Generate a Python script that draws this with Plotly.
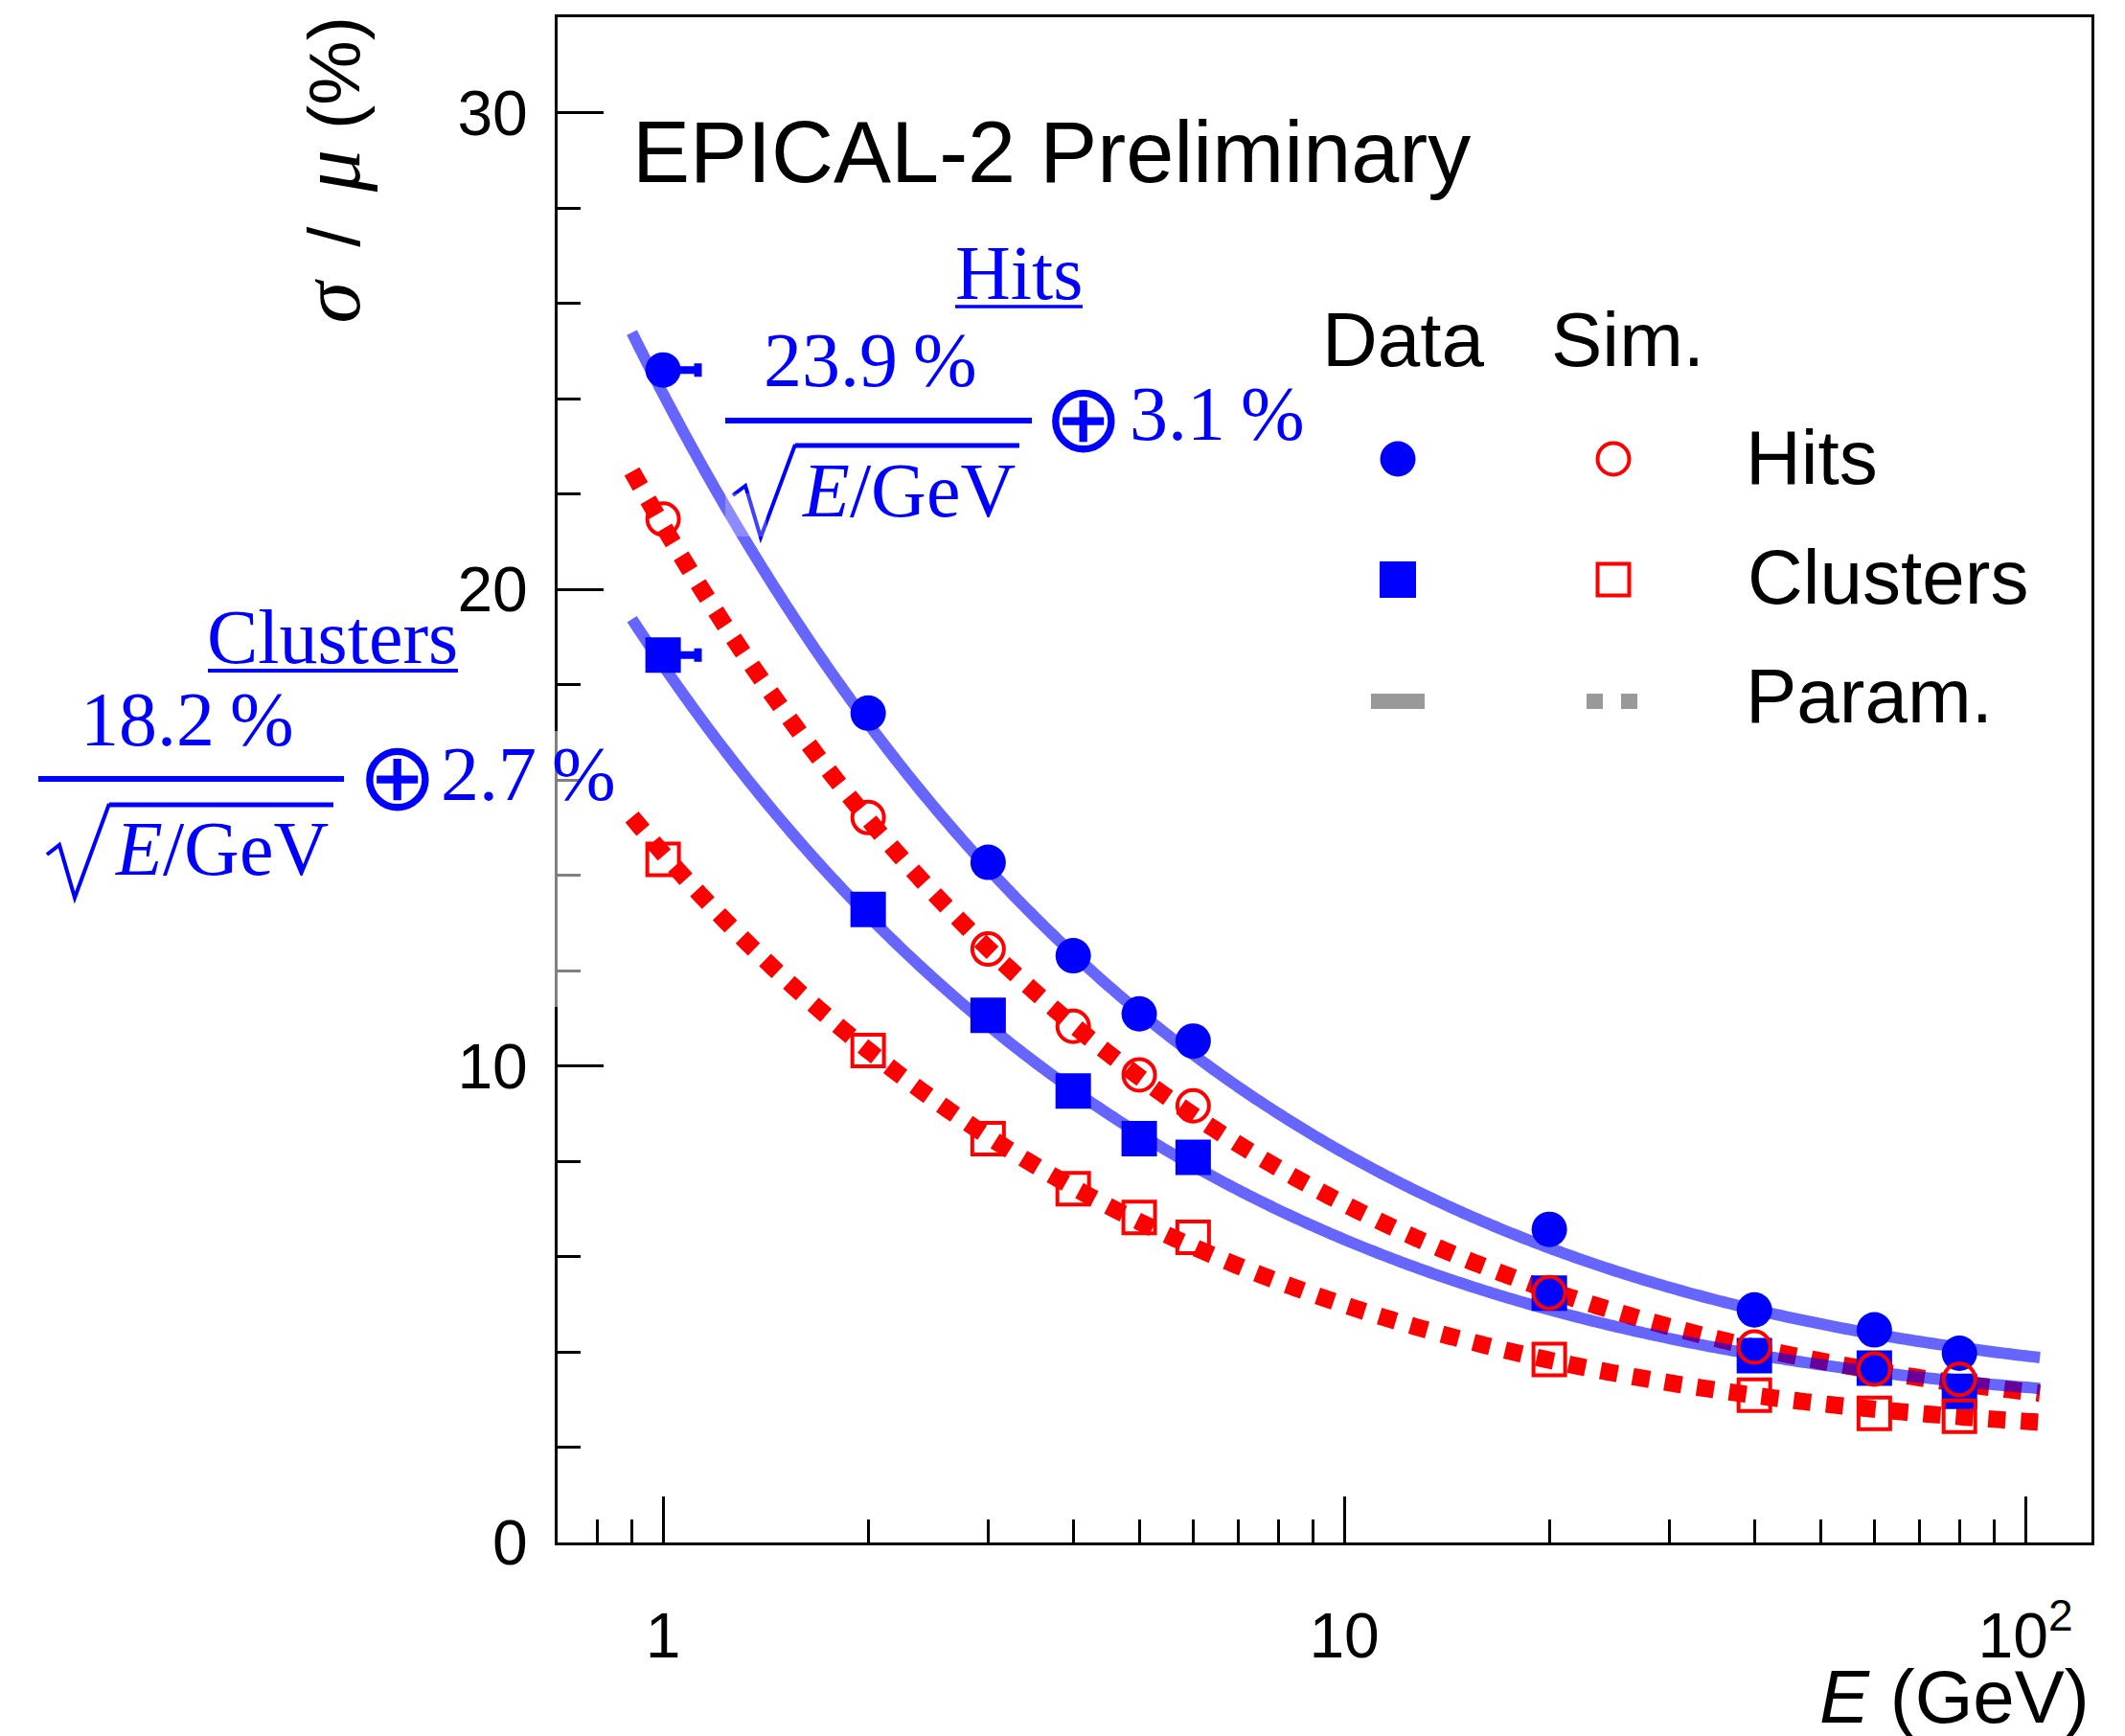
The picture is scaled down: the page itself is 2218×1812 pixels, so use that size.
import numpy as np
import plotly.graph_objects as go

# ---------------- data ----------------
energy = [1, 2, 3, 4, 5, 6, 20, 40, 60, 80]
hits_data = [24.6, 17.4, 14.27, 12.31, 11.09, 10.52, 6.57, 4.88, 4.46, 3.97]
clusters_data = [18.62, 13.28, 11.06, 9.47, 8.47, 8.08, 5.23, 3.92, 3.66, 3.17]
hits_sim = [21.47, 15.21, 12.45, 10.83, 9.81, 9.16, 5.24, 4.10, 3.64, 3.42]
clusters_sim = [14.33, 10.32, 8.47, 7.42, 6.82, 6.40, 3.84, 3.09, 2.71, 2.65]
energy_err_plus = [0.125, None, None, None, None, None, None, None, None, None]

# parametrisations a/sqrt(E) (+) b   [%]
hits_param = (23.9, 3.1)
clusters_param = (18.2, 2.7)
hits_sim_param = (21.2, 2.35)
clusters_sim_param = (14.3, 2.1)
param_range = (0.9, 105)

x_tickvals = [1, 10, 100]
x_ticktext = ["1", "10", "10<sup>2</sup>"]
x_minor = [0.8, 0.9, 2, 3, 4, 5, 6, 7, 8, 9, 20, 30, 40, 50, 60, 70, 80, 90]
y_tickvals = [0, 10, 20, 30]

SANS = "Liberation Sans, Arial, Helvetica, sans-serif"
SERIF = "Liberation Serif, Times New Roman, serif"
BLUE = "#0000ff"
RED = "#ff0000"

W, H = 2218, 1812
L, R, T, B = 582, 2183, 18, 1610


def px(x):
    return (x - L) / (R - L)


def py(y):
    return (B - y) / (B - T)


e_fine = np.geomspace(param_range[0], param_range[1], 400)


def param_curve(p):
    a, b = p
    return np.sqrt(a ** 2 / e_fine + b ** 2)


fig = go.Figure()

# simulation parametrisations (red dotted)
for p in (hits_sim_param, clusters_sim_param):
    fig.add_trace(go.Scatter(x=e_fine, y=param_curve(p), mode="lines",
                             line=dict(color=RED, width=18, dash="18px,16px", simplify=False),
                             hoverinfo="skip"))
# data parametrisations (blue, semi-transparent)
for p in (hits_param, clusters_param):
    fig.add_trace(go.Scatter(x=e_fine, y=param_curve(p), mode="lines",
                             line=dict(color="rgba(0,0,255,0.6)", width=12, simplify=False),
                             hoverinfo="skip"))

errx = dict(type="data", symmetric=False, array=energy_err_plus,
            arrayminus=[0] * len(energy), color=BLUE, thickness=8, width=7)

fig.add_trace(go.Scatter(x=energy, y=hits_data, mode="markers",
                         marker=dict(symbol="circle", size=37, color=BLUE),
                         error_x=errx))
fig.add_trace(go.Scatter(x=energy, y=clusters_data, mode="markers",
                         marker=dict(symbol="square", size=37, color=BLUE),
                         error_x=errx))
fig.add_trace(go.Scatter(x=energy, y=hits_sim, mode="markers",
                         marker=dict(symbol="circle-open", size=33,
                                     color=RED, line=dict(color=RED, width=4))))
fig.add_trace(go.Scatter(x=energy, y=clusters_sim, mode="markers",
                         marker=dict(symbol="square-open", size=33,
                                     color=RED, line=dict(color=RED, width=4))))

shapes = []
annotations = []


def text(x, y, s, size, color="black", family=SANS, xanchor="center", **kw):
    annotations.append(dict(x=px(x), y=py(y), xref="paper", yref="paper", text=s,
                            showarrow=False, xanchor=xanchor, yanchor="middle",
                            font=dict(size=size, color=color, family=family), **kw))


def hline(x0, x1, y, width, color=BLUE, dash=None):
    line = dict(color=color, width=width)
    if dash:
        line["dash"] = dash
    shapes.append(dict(type="line", xref="paper", yref="paper",
                       x0=px(x0), x1=px(x1), y0=py(y), y1=py(y), line=line))


def sqrt_sign(pts):
    path = "M " + " L ".join(f"{px(x):.5f},{py(y):.5f}" for x, y in pts)
    shapes.append(dict(type="path", xref="paper", yref="paper", path=path,
                       line=dict(color=BLUE, width=4)))


TS = "\u2009"  # thin space

# title
text(658, 159, "EPICAL-2 Preliminary", 90, xanchor="left")

# ---- Hits formula ----
text(1063, 285, "Hits", 80, BLUE, SERIF)
hline(997, 1130, 320, 3.5)
text(908, 376, "23.9" + TS + "%", 80, BLUE, SERIF)
hline(757, 1077, 439, 6)
text(948, 512, "<i>E</i>/GeV", 80, BLUE, SERIF)
hline(830, 1064, 465, 5)
sqrt_sign([(765, 517), (778, 507), (794, 561), (830, 464)])
text(1131, 436, "⊕", 100, BLUE, "DejaVu Sans")
text(1270, 432, "3.1" + TS + "%", 80, BLUE, SERIF)

# ---- Clusters formula ----
text(347, 665, "Clusters", 80, BLUE, SERIF)
hline(217, 478, 700, 4)
text(195, 751, "18.2" + TS + "%", 80, BLUE, SERIF)
hline(40, 359, 813, 6)
text(231, 886, "<i>E</i>/GeV", 80, BLUE, SERIF)
hline(114, 348, 840, 5)
sqrt_sign([(49, 892), (62, 882), (78, 937), (114, 839)])
text(415, 810, "⊕", 100, BLUE, "DejaVu Sans")
text(551, 808, "2.7" + TS + "%", 80, BLUE, SERIF)

# ---- legend ----
text(1378, 354, "Data", 80, xanchor="left")
text(1617, 354, "Sim.", 80, xanchor="left")
text(1820, 478, "Hits", 80, xanchor="left")
text(1822, 602, "Clusters", 80, xanchor="left")
text(1820, 726, "Param.", 80, xanchor="left")

shapes.append(dict(type="circle", xref="paper", yref="paper",
                   x0=px(1459 - 18.5), x1=px(1459 + 18.5), y0=py(479 + 18.5), y1=py(479 - 18.5),
                   fillcolor=BLUE, line=dict(width=0)))
shapes.append(dict(type="circle", xref="paper", yref="paper",
                   x0=px(1684 - 16.5), x1=px(1684 + 16.5), y0=py(479 + 16.5), y1=py(479 - 16.5),
                   fillcolor="rgba(0,0,0,0)", line=dict(color=RED, width=4)))
shapes.append(dict(type="rect", xref="paper", yref="paper",
                   x0=px(1459 - 19), x1=px(1459 + 19), y0=py(605 + 19), y1=py(605 - 19),
                   fillcolor=BLUE, line=dict(width=0)))
shapes.append(dict(type="rect", xref="paper", yref="paper",
                   x0=px(1684 - 16.5), x1=px(1684 + 16.5), y0=py(605 + 16.5), y1=py(605 - 16.5),
                   fillcolor="rgba(0,0,0,0)", line=dict(color=RED, width=4)))
hline(1431, 1487, 732, 16, color="#999999")
hline(1656, 1709, 732, 16, color="#999999", dash="17px,19px")

# faint white boxes of the formula text (greying the axis)
shapes.append(dict(type="rect", xref="paper", yref="paper", layer="above",
                   x0=px(572), x1=px(610), y0=py(1051), y1=py(763),
                   fillcolor="rgba(255,255,255,0.5)", line=dict(width=0)))
shapes.append(dict(type="rect", xref="paper", yref="paper", layer="above",
                   x0=px(757), x1=px(800), y0=py(560), y1=py(515),
                   fillcolor="rgba(255,255,255,0.25)", line=dict(width=0)))

# axis titles
annotations.append(dict(x=1, y=py(1771), xref="paper", yref="paper",
                        text="<i>E</i> (GeV)", showarrow=False, xanchor="right",
                        yanchor="middle", font=dict(size=78, family=SANS, color="black")))
GREEK = "font-family:Liberation Serif;font-size:88px"
annotations.append(dict(x=px(345), y=py(15), xref="paper", yref="paper", textangle=-90,
                        text=(f"<span style='{GREEK}'><i>σ</i></span> \u2009/ \u2009"
                              f"<span style='{GREEK}'><i>μ</i></span> (%)"),
                        showarrow=False, xanchor="center", yanchor="top",
                        font=dict(size=76, family=SANS, color="black")))

fig.update_layout(
    width=W, height=H,
    margin=dict(l=L, r=W - R, t=T, b=H - B),
    paper_bgcolor="white", plot_bgcolor="white",
    showlegend=False,
    shapes=shapes, annotations=annotations,
    xaxis=dict(type="log", range=[np.log10(0.7), np.log10(125)],
               tickmode="array", tickvals=x_tickvals, ticktext=x_ticktext,
               ticks="inside", ticklen=48, tickwidth=3, tickcolor="black",
               showline=True, linewidth=3, linecolor="black", mirror=True,
               showgrid=False, zeroline=False,
               tickfont=dict(size=66, family=SANS, color="black"),
               ticklabelstandoff=38,
               minor=dict(tickmode="array", tickvals=x_minor, ticks="inside",
                          ticklen=24, tickwidth=3, tickcolor="black", showgrid=False)),
    yaxis=dict(range=[0, 32], tickmode="array", tickvals=y_tickvals,
               ticks="inside", ticklen=48, tickwidth=3, tickcolor="black",
               showline=True, linewidth=3, linecolor="black", mirror=True,
               showgrid=False, zeroline=False,
               tickfont=dict(size=66, family=SANS, color="black"),
               ticklabelstandoff=15,
               minor=dict(dtick=2, tick0=0, ticks="inside", ticklen=24,
                          tickwidth=3, tickcolor="black", showgrid=False)),
)

fig.write_html("out.html")
